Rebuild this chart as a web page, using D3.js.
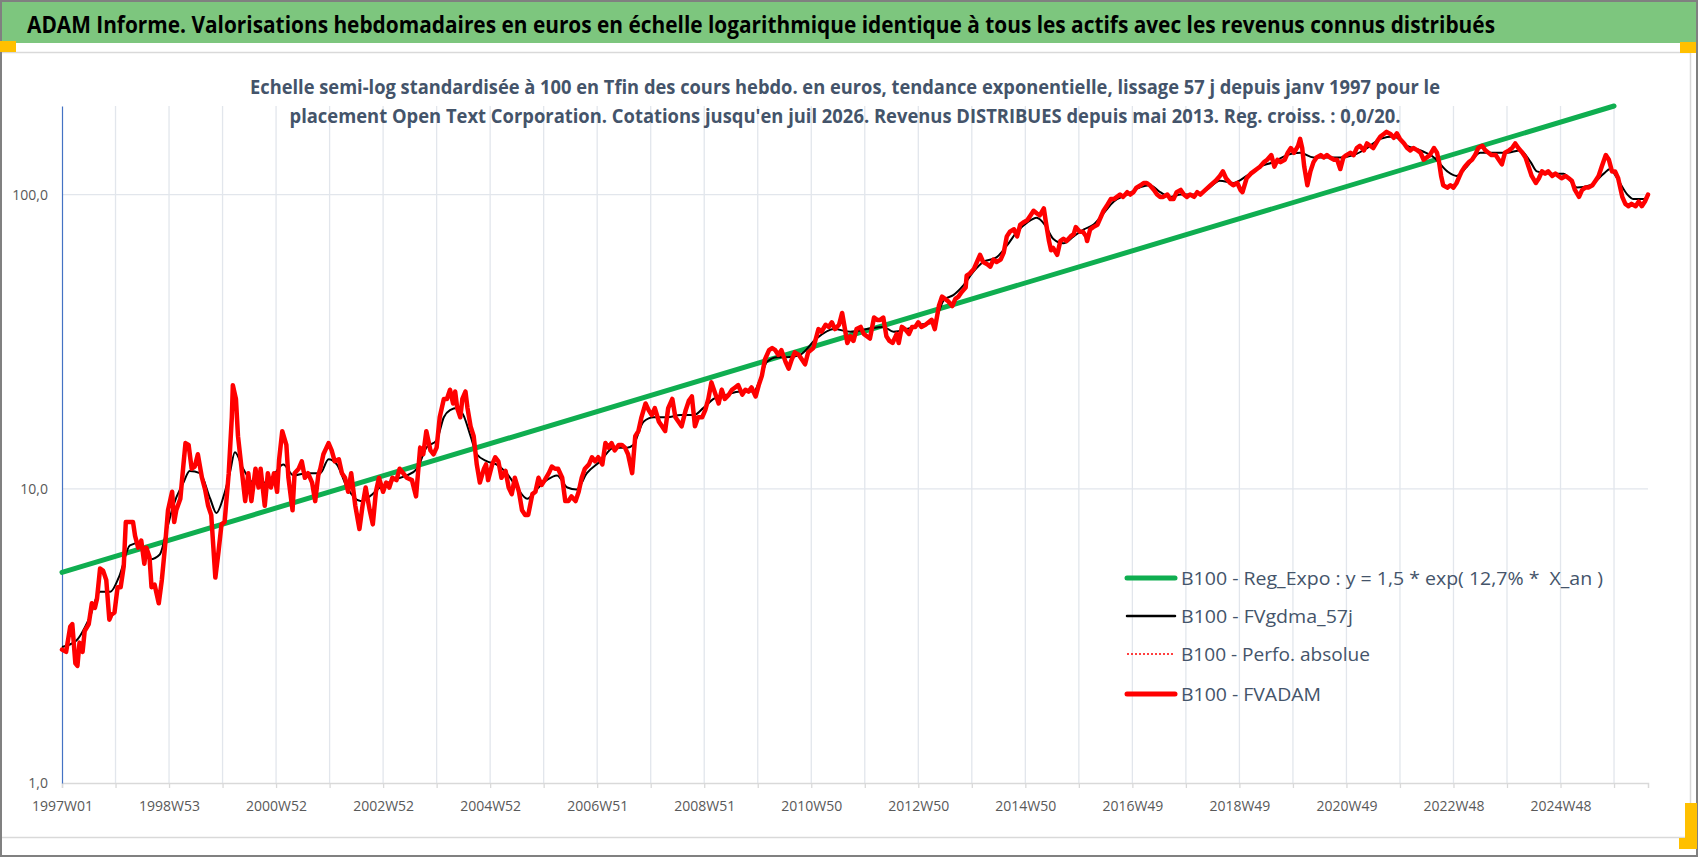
<!DOCTYPE html>
<html>
<head>
<meta charset="UTF-8">
<title>ADAM Informe - Open Text Corporation</title>
<script src="https://cdnjs.cloudflare.com/ajax/libs/d3/7.8.5/d3.min.js"></script>
<style>
  body { margin: 0; background: #fff; }
  svg { display: block; font-family: "Open Sans", "Noto Sans", sans-serif; }
</style>
</head>
<body>
<svg id="chart"></svg>
<script>

var titleText = "ADAM Informe. Valorisations hebdomadaires en euros en échelle logarithmique identique à tous les actifs avec les revenus connus distribués";
var subtitleLines = [
    "Echelle semi-log standardisée à 100 en Tfin des cours hebdo. en euros, tendance exponentielle, lissage 57 j depuis janv 1997 pour le",
    "placement Open Text Corporation. Cotations jusqu'en juil 2026. Revenus DISTRIBUES depuis mai 2013. Reg. croiss. : 0,0/20."
];

var yTicks = [1, 10, 100];
var yTickLabels = ["1,0", "10,0", "100,0"];
var xTickLabels = ["1997W01", "1998W53", "2000W52", "2002W52", "2004W52", "2006W51", "2008W51",
    "2010W50", "2012W50", "2014W50", "2016W49", "2018W49", "2020W49", "2022W48", "2024W48"];
var lastWeek = 1541;

var legendNames = [
    "B100 - Reg_Expo : y = 1,5 * exp( 12,7% *  X_an )",
    "B100 - FVgdma_57j",
    "B100 - Perfo. absolue",
    "B100 - FVADAM"
];

// [week index, value]
var regExpo = [[0, 5.2], [717, 29.5], [1106, 75.5], [1508, 200]];

var fvgdma = [[0, 2.9], [14, 3.05], [27, 3.66], [37, 4.47], [47, 4.47], [56, 5.08], [66, 6.42], [76, 6.55],
    [86, 5.76], [95, 5.98], [102, 7.3], [108, 8.75], [118, 10.5], [124, 11.5], [134, 11.3], [144, 9.25],
    [150, 8.28], [157, 9.42], [163, 11.3], [168, 13.3], [176, 11.7], [186, 10.5], [199, 10.5], [215, 12.1],
    [225, 11.1], [238, 11.3], [251, 11.3], [259, 12.6], [267, 12.1], [277, 10.1], [290, 9.08], [299, 9.42],
    [309, 10.1], [322, 10.7], [335, 11.1], [345, 11.7], [354, 13.8], [364, 14.6], [371, 17.5], [377, 18.5],
    [384, 18.8], [390, 17.8], [397, 15.1], [403, 13.1], [413, 12.4], [422, 12.1], [432, 11.3], [442, 10.1],
    [452, 9.25], [461, 9.95], [471, 10.7], [481, 11.1], [491, 10.1], [500, 9.95], [510, 11.3], [523, 12.4],
    [536, 13.8], [549, 13.8], [555, 14.1], [565, 16.9], [575, 17.5], [588, 17.5], [601, 17.8], [614, 17.8],
    [623, 18.8], [633, 20.2], [646, 20.9], [659, 21.4], [672, 21.4], [678, 23.4], [685, 27.0], [695, 28.0],
    [704, 28.0], [717, 28.5], [733, 32.4], [750, 34.9], [766, 34.2], [782, 34.9], [798, 35.5], [808, 34.2],
    [821, 34.9], [834, 36.1], [847, 36.8], [857, 43.9], [866, 45.5], [876, 49.2], [886, 54.9], [895, 59.0],
    [908, 61.2], [918, 67.0], [928, 74.8], [938, 80.4], [947, 83.4], [955, 78.9], [963, 70.8], [973, 68.3],
    [983, 72.1], [993, 76.2], [1002, 78.9], [1012, 86.4], [1022, 94.7], [1035, 100], [1048, 106], [1057, 107.6],
    [1067, 101.9], [1077, 98.2], [1087, 100], [1100, 100], [1112, 103.7], [1125, 111.5], [1138, 109.5],
    [1151, 115.7], [1164, 124.4], [1177, 128.9], [1190, 136.2], [1203, 138.7], [1216, 133.7], [1229, 133.7],
    [1242, 133.7], [1255, 136.2], [1268, 143.9], [1281, 154.6], [1294, 157.4], [1307, 146.5], [1320, 141.3],
    [1333, 133.7], [1346, 119.9], [1355, 115.7], [1365, 124.4], [1378, 138.7], [1391, 138.7], [1404, 138.7],
    [1417, 141.3], [1427, 128.9], [1433, 119.9], [1446, 117.8], [1459, 117.8], [1472, 105.6], [1485, 107.6],
    [1498, 117.8], [1504, 122.1], [1511, 113.6], [1521, 100], [1527, 96.5], [1537, 96.5], [1541, 98.2]];

var fvadam = [[0, 2.84], [4, 2.79], [8, 3.4], [10, 3.47], [13, 2.55], [15, 2.5], [17, 3.0], [20, 2.79],
    [22, 3.28], [26, 3.47], [29, 4.08], [32, 3.94], [34, 4.23], [37, 5.36], [40, 5.26], [43, 4.9], [46, 3.59],
    [48, 3.73], [51, 3.8], [54, 4.63], [57, 4.63], [60, 5.46], [62, 7.71], [65, 7.71], [69, 7.71], [71, 6.92],
    [74, 6.31], [77, 6.67], [80, 5.56], [82, 6.31], [85, 5.87], [87, 4.63], [90, 4.72], [94, 4.08], [97, 4.9],
    [100, 6.31], [103, 8.45], [107, 9.77], [109, 7.71], [111, 8.45], [115, 9.25], [118, 12.1], [120, 14.3],
    [123, 14.1], [126, 11.7], [129, 11.9], [132, 13.1], [136, 10.9], [139, 9.95], [142, 8.75], [145, 8.15],
    [149, 4.99], [152, 6.09], [155, 7.57], [158, 7.71], [162, 11.3], [165, 17.5], [166, 22.5], [169, 20.2],
    [171, 15.1], [175, 11.3], [178, 9.08], [181, 11.3], [184, 9.08], [188, 11.7], [191, 10.1], [193, 11.7],
    [197, 8.75], [200, 11.3], [203, 10.1], [206, 11.3], [209, 9.77], [211, 12.6], [214, 15.7], [218, 14.1],
    [220, 10.9], [224, 8.45], [226, 11.3], [230, 11.7], [233, 12.4], [236, 10.9], [239, 11.3], [243, 10.5],
    [246, 9.08], [249, 11.1], [251, 11.7], [254, 13.1], [259, 14.3], [262, 13.5], [265, 12.4], [269, 12.6],
    [272, 11.3], [275, 10.9], [278, 9.77], [281, 11.3], [285, 8.75], [289, 7.3], [292, 8.75], [295, 10.1],
    [299, 8.45], [302, 7.57], [305, 9.77], [308, 10.9], [312, 9.77], [315, 10.5], [318, 10.1], [321, 10.9],
    [325, 10.7], [328, 11.7], [335, 10.9], [340, 10.7], [344, 9.42], [348, 13.8], [351, 13.1], [354, 15.7],
    [358, 13.5], [361, 13.1], [364, 13.8], [367, 17.5], [371, 20.2], [374, 20.2], [377, 21.7], [380, 19.5],
    [382, 21.4], [384, 18.8], [387, 17.5], [389, 20.2], [392, 21.4], [394, 18.8], [397, 16.3], [400, 15.1],
    [403, 12.1], [406, 10.5], [410, 11.7], [412, 12.1], [414, 10.7], [418, 12.1], [421, 12.8], [424, 12.4],
    [427, 10.9], [431, 11.5], [434, 10.1], [437, 9.59], [440, 10.9], [444, 9.77], [447, 8.45], [450, 8.15],
    [453, 8.15], [457, 9.59], [460, 9.77], [463, 10.9], [466, 10.3], [469, 10.7], [473, 11.3], [476, 11.9],
    [479, 11.7], [482, 11.7], [486, 10.9], [489, 9.08], [492, 9.08], [495, 9.42], [499, 9.08], [502, 9.77],
    [505, 10.9], [508, 11.7], [512, 12.1], [515, 12.8], [518, 12.4], [521, 12.8], [525, 12.1], [528, 14.3],
    [531, 13.8], [534, 14.3], [537, 13.5], [541, 14.1], [544, 14.1], [547, 13.8], [550, 13.1], [554, 11.3],
    [557, 15.1], [560, 15.7], [563, 17.5], [567, 19.5], [570, 18.5], [573, 17.8], [576, 18.8], [580, 16.9],
    [583, 16.3], [586, 15.7], [589, 18.8], [593, 20.2], [596, 17.5], [599, 16.9], [602, 16.3], [606, 18.5],
    [609, 19.9], [612, 20.6], [615, 16.3], [618, 17.5], [622, 17.5], [625, 18.5], [628, 20.2], [631, 23.0],
    [635, 20.9], [638, 19.5], [641, 21.7], [644, 20.2], [648, 20.9], [651, 21.7], [654, 22.1], [657, 22.5],
    [661, 20.9], [664, 21.7], [667, 21.4], [670, 22.1], [674, 20.6], [677, 22.5], [680, 24.2], [683, 27.5],
    [687, 29.6], [690, 30.1], [693, 29.6], [696, 28.5], [699, 29.6], [703, 27.0], [706, 25.6], [709, 27.5],
    [712, 29.1], [716, 28.5], [722, 26.5], [725, 29.1], [730, 30.1], [735, 34.9], [738, 34.2], [742, 36.1],
    [745, 35.5], [748, 36.8], [751, 34.9], [755, 36.1], [758, 39.6], [760, 36.1], [763, 31.3], [766, 33.0],
    [769, 31.8], [772, 34.9], [776, 35.5], [779, 33.6], [782, 33.0], [785, 32.4], [789, 38.2], [792, 37.5],
    [795, 37.5], [798, 38.2], [801, 33.0], [804, 31.8], [807, 31.3], [811, 33.6], [813, 31.3], [816, 35.5],
    [819, 34.9], [823, 33.6], [826, 35.5], [829, 35.5], [832, 36.8], [835, 35.5], [839, 36.1], [842, 36.8],
    [845, 37.5], [848, 34.9], [852, 41.8], [855, 45.0], [858, 44.2], [861, 43.4], [865, 41.8], [868, 44.2],
    [871, 45.0], [874, 46.6], [878, 48.3], [879, 53.0], [882, 53.9], [886, 55.9], [889, 59.0], [892, 62.4],
    [895, 59.0], [899, 58.0], [902, 56.9], [905, 60.1], [908, 59.0], [912, 60.1], [915, 63.5], [918, 72.1],
    [921, 74.8], [925, 76.2], [928, 72.1], [931, 78.9], [934, 80.4], [938, 81.9], [941, 84.9], [944, 88.1],
    [947, 86.4], [950, 84.9], [954, 89.7], [956, 80.4], [959, 69.5], [961, 64.7], [963, 65.9], [967, 62.4],
    [970, 69.5], [973, 70.8], [976, 69.5], [980, 72.1], [983, 73.4], [985, 77.5], [989, 74.8], [992, 74.8],
    [995, 72.1], [996, 69.5], [999, 76.2], [1002, 77.5], [1006, 78.9], [1009, 83.4], [1012, 88.1], [1015, 91.4],
    [1019, 96.5], [1022, 96.5], [1025, 98.2], [1028, 100], [1031, 98.2], [1035, 101.9], [1038, 100],
    [1041, 101.9], [1044, 105.6], [1048, 107.6], [1051, 109.5], [1054, 109.5], [1057, 107.6], [1061, 103.7],
    [1064, 100], [1067, 98.2], [1070, 98.2], [1074, 100], [1077, 96.5], [1080, 96.5], [1083, 101.9],
    [1087, 103.7], [1090, 100], [1093, 98.2], [1096, 100], [1100, 98.2], [1103, 101.9], [1106, 100],
    [1111, 103.7], [1116, 107.6], [1121, 111.5], [1125, 115.7], [1128, 119.9], [1131, 113.6], [1135, 109.5],
    [1138, 107.6], [1142, 109.5], [1145, 103.7], [1147, 101.9], [1151, 113.6], [1155, 117.8], [1158, 119.9],
    [1161, 122.1], [1164, 124.4], [1168, 128.9], [1171, 131.3], [1175, 136.2], [1178, 124.4], [1181, 131.3],
    [1184, 128.9], [1188, 131.3], [1191, 138.7], [1194, 143.9], [1197, 138.7], [1201, 146.5], [1203, 154.6],
    [1205, 143.9], [1207, 124.4], [1210, 107.6], [1213, 119.9], [1216, 128.9], [1219, 133.7], [1223, 136.2],
    [1226, 133.7], [1229, 136.2], [1232, 133.7], [1236, 131.3], [1239, 131.3], [1242, 122.1], [1245, 133.7],
    [1248, 136.2], [1252, 138.7], [1255, 136.2], [1258, 143.9], [1261, 146.5], [1265, 141.3], [1268, 149.2],
    [1271, 146.5], [1274, 143.9], [1278, 152], [1281, 157.4], [1284, 160.3], [1287, 163.3], [1291, 160.3],
    [1294, 155.9], [1297, 161.5], [1300, 154.6], [1304, 149.2], [1307, 143.9], [1310, 141.3], [1313, 143.9],
    [1317, 141.3], [1320, 138.7], [1323, 131.3], [1326, 133.7], [1329, 136.2], [1333, 143.9], [1336, 138.7],
    [1338, 128.9], [1340, 115.7], [1342, 107.6], [1346, 105.6], [1349, 107.6], [1352, 105.6], [1355, 109.5],
    [1358, 115.7], [1360, 119.9], [1363, 124.4], [1367, 128.9], [1370, 131.3], [1373, 136.2], [1376, 143.9],
    [1380, 146.5], [1383, 141.3], [1386, 138.7], [1389, 136.2], [1393, 136.2], [1396, 131.3], [1399, 126.7],
    [1402, 138.7], [1406, 141.3], [1409, 143.9], [1412, 149.2], [1415, 143.9], [1419, 138.7], [1422, 133.7],
    [1425, 124.4], [1428, 115.7], [1432, 109.5], [1435, 113.6], [1438, 119.9], [1441, 117.8], [1444, 119.9],
    [1448, 115.7], [1451, 117.8], [1454, 115.7], [1457, 113.6], [1461, 115.7], [1464, 113.6], [1467, 111.5],
    [1470, 103.7], [1474, 98.2], [1477, 103.7], [1480, 105.6], [1483, 105.6], [1487, 107.6], [1490, 111.5],
    [1493, 115.7], [1496, 124.4], [1500, 136.2], [1503, 131.3], [1506, 119.9], [1509, 119.9], [1512, 113.6],
    [1516, 98.2], [1519, 93.0], [1522, 91.3], [1525, 93.0], [1529, 91.3], [1532, 94.7], [1535, 91.3],
    [1538, 94.7], [1541, 100]];

var svgWidth = 1698, svgHeight = 857;
var margin = { top: 106, right: 50, bottom: 74, left: 62 };
var width = svgWidth - margin.left - margin.right;
var height = svgHeight - margin.top - margin.bottom;

var svg = d3.select("#chart")
    .attr("width", svgWidth)
    .attr("height", svgHeight);

// frame, header band and selection handles
svg.append("rect").attr("x", 0).attr("y", 0).attr("width", svgWidth).attr("height", svgHeight).attr("fill", "#fff");
svg.append("rect").attr("x", 2).attr("y", 2).attr("width", 1694).attr("height", 41).attr("fill", "#7dc67e");
svg.append("path").attr("d", "M0,52.5H1690.5V837.5H0").attr("fill", "none").attr("stroke", "#d9d9d9").attr("stroke-width", 1.5);
svg.append("rect").attr("x", 1).attr("y", 1).attr("width", svgWidth - 2).attr("height", svgHeight - 2)
    .attr("fill", "none").attr("stroke", "#808080").attr("stroke-width", 2);

var handles = [[0, 41, 16, 11], [1680, 42, 16, 11], [1685, 803, 12, 46], [1679, 838, 18, 11]];
svg.selectAll(".handle").data(handles).enter().append("rect")
    .attr("class", "handle")
    .attr("x", function (d) { return d[0] })
    .attr("y", function (d) { return d[1] })
    .attr("width", function (d) { return d[2] })
    .attr("height", function (d) { return d[3] })
    .attr("fill", "#ffc000");

svg.append("text")
    .attr("x", 27).attr("y", 33)
    .attr("font-size", 23).attr("font-weight", "bold").attr("fill", "#000")
    .attr("textLength", 1468).attr("lengthAdjust", "spacingAndGlyphs")
    .text(titleText);

var g = svg.append("g")
    .attr("transform", "translate(" + margin.left + "," + margin.top + ")");

var x = d3.scaleLinear().domain([0, lastWeek]).range([0, width]);
var y = d3.scaleLog().domain([1, 200]).range([height, 0]);

var gridWeeks = d3.range(52, lastWeek, 52);

// vertical gridlines
g.append("g").selectAll("line").data(gridWeeks).enter().append("line")
    .attr("x1", function (d) { return x(d) }).attr("x2", function (d) { return x(d) })
    .attr("y1", 0).attr("y2", height)
    .attr("stroke", "#e2e6ec").attr("stroke-width", 1.3);

// horizontal gridlines
g.append("g").selectAll("line").data(yTicks.slice(1)).enter().append("line")
    .attr("x1", 0).attr("x2", width)
    .attr("y1", function (d) { return y(d) }).attr("y2", function (d) { return y(d) })
    .attr("stroke", "#e2e6ec").attr("stroke-width", 1.3);

// x axis
var xAxis = d3.axisBottom(x)
    .tickValues([0].concat(gridWeeks))
    .tickSize(5)
    .tickFormat(function (d) {
        var k = d / 104;
        return Number.isInteger(k) && k < xTickLabels.length ? xTickLabels[k] : "";
    });
var gx = g.append("g")
    .attr("class", "axis x")
    .attr("transform", "translate(0," + height + ")")
    .call(xAxis);
gx.select(".domain").attr("stroke", "#d9d9d9").attr("stroke-width", 1.5);
gx.selectAll(".tick line").attr("stroke", "#d9d9d9").attr("stroke-width", 1.3);
gx.selectAll(".tick text")
    .attr("y", 24).attr("dy", "0.32em")
    .attr("font-size", 14).attr("fill", "#595959")
    .attr("font-family", "\"Open Sans\", sans-serif");

// y axis
var yAxis = d3.axisLeft(y)
    .tickValues(yTicks)
    .tickSize(0)
    .tickPadding(14)
    .tickFormat(function (d, i) { return yTickLabels[i] });
var gy = g.append("g")
    .attr("class", "axis y")
    .call(yAxis);
gy.select(".domain").attr("stroke", "#4472c4").attr("stroke-width", 1.2);
gy.selectAll(".tick text")
    .attr("font-size", 14).attr("fill", "#595959")
    .attr("font-family", "\"Open Sans\", sans-serif");

var line = d3.line()
    .x(function (d) { return x(d[0]) })
    .y(function (d) { return y(d[1]) });

var smooth = d3.line()
    .curve(d3.curveMonotoneX)
    .x(function (d) { return x(d[0]) })
    .y(function (d) { return y(d[1]) });

g.append("path")
    .datum(regExpo)
    .attr("fill", "none")
    .attr("stroke", "#0fae50")
    .attr("stroke-width", 5)
    .attr("stroke-linecap", "round")
    .attr("d", line);

g.append("path")
    .datum(fvgdma)
    .attr("fill", "none")
    .attr("stroke", "#000")
    .attr("stroke-width", 2)
    .attr("stroke-linejoin", "round")
    .attr("d", smooth);

g.append("path")
    .datum(fvadam)
    .attr("fill", "none")
    .attr("stroke", "#ff0000")
    .attr("stroke-width", 1.5)
    .attr("stroke-dasharray", "2,2")
    .attr("d", line);

g.append("path")
    .datum(fvadam)
    .attr("fill", "none")
    .attr("stroke", "#ff0000")
    .attr("stroke-width", 4.5)
    .attr("stroke-linejoin", "round")
    .attr("stroke-linecap", "round")
    .attr("d", line);

// subtitle drawn over the gridlines
var subWidths = [1190, 1111];
svg.selectAll(".subtitle").data(subtitleLines).enter().append("text")
    .attr("class", "subtitle")
    .attr("x", 845)
    .attr("y", function (d, i) { return 94 + i * 29 })
    .attr("text-anchor", "middle")
    .attr("font-size", 20).attr("font-weight", "bold").attr("fill", "#44546a")
    .attr("textLength", function (d, i) { return subWidths[i] })
    .attr("lengthAdjust", "spacingAndGlyphs")
    .text(function (d) { return d });

// legend
var legendStyles = [
    { color: "#0fae50", width: 5, dash: null },
    { color: "#000", width: 2.5, dash: null },
    { color: "#ff0000", width: 1.5, dash: "2,2" },
    { color: "#ff0000", width: 5, dash: null }
];
var legendY = [578, 616, 654, 694];
var legendWidths = [422, 172, 189, 140];

var lg = svg.append("g").attr("class", "legend");
var items = lg.selectAll("g").data(legendNames).enter().append("g")
    .attr("transform", function (d, i) { return "translate(1127," + legendY[i] + ")" });
items.append("line")
    .attr("x1", 0).attr("x2", 48).attr("y1", 0).attr("y2", 0)
    .attr("stroke", function (d, i) { return legendStyles[i].color })
    .attr("stroke-width", function (d, i) { return legendStyles[i].width })
    .attr("stroke-dasharray", function (d, i) { return legendStyles[i].dash })
    .attr("stroke-linecap", function (d, i) { return legendStyles[i].dash ? "butt" : "round" });
items.append("text")
    .attr("x", 54).attr("y", 0).attr("dy", "0.35em")
    .attr("font-size", 19).attr("fill", "#44546a")
    .style("white-space", "pre")
    .attr("textLength", function (d, i) { return legendWidths[i] })
    .attr("lengthAdjust", "spacingAndGlyphs")
    .text(function (d) { return d });

</script>
</body>
</html>
